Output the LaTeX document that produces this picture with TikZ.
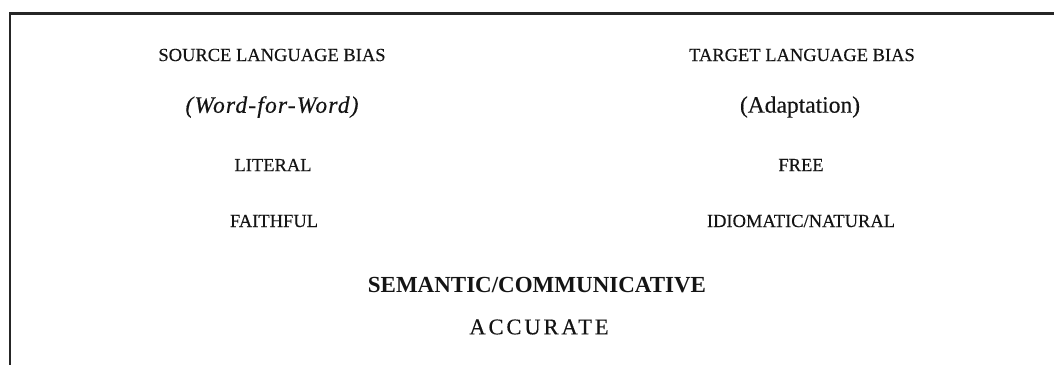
\documentclass[tikz,border=0pt]{standalone}
\usepackage{fontspec}
\setmainfont{Liberation Serif}
\newfontfamily\inkserif{Liberation Serif}[FakeBold=0.35]
\newfontfamily\inkitalic{Liberation Serif Italic}[FakeBold=0.5, LetterSpace=5]
\begin{document}
\begin{tikzpicture}[x=1pt,y=-1pt,
  lbl/.style={inner sep=0pt, text=black!92},
  caps/.style={lbl, font=\inkserif\fontsize{18.5}{20}\selectfont},
  paren/.style={lbl, font=\fontsize{23.5}{26}\selectfont},
  frame/.style={line width=2.2pt, black!85}]
  \useasboundingbox (0,0) rectangle (1054,365);
  % open frame: top rule and left rule
  \draw[frame] (1054,13.5) -- (10,13.5) -- (10,365);
  % left column
  \node[caps]  (slb) at (272,55)  {SOURCE LANGUAGE BIAS};
  \node[paren] (wfw) at (272,107) {\inkitalic (Word-for-Word)};
  \node[caps]  (lit) at (273,165) {LITERAL};
  \node[caps]  (fai) at (274,221) {FAITHFUL};
  % right column
  \node[caps]  (tlb) at (802,55)  {TARGET LANGUAGE BIAS};
  \node[paren] (ada) at (800,107) {\inkserif(Adaptation)};
  \node[caps]  (fre) at (801,165) {FREE};
  \node[caps]  (idi) at (801,221) {IDIOMATIC/NATURAL};
  % centre
  \node[lbl, font=\fontsize{23}{26}\selectfont\bfseries] (sem) at (537,285) {SEMANTIC/COMMUNICATIVE};
  \node[lbl, font=\inkserif\fontsize{22.5}{26}\selectfont] (acc) at (539,327) {\addfontfeatures{LetterSpace=13}ACCURATE};
\end{tikzpicture}
\end{document}
